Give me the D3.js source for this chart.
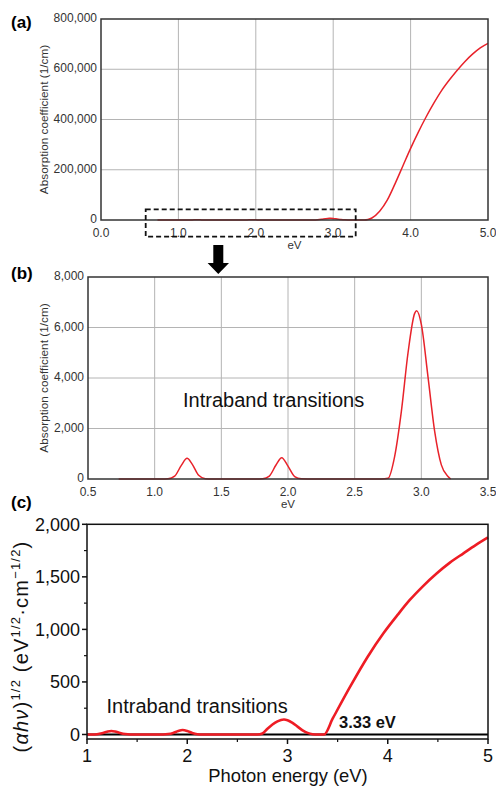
<!DOCTYPE html>
<html>
<head>
<meta charset="utf-8">
<script src="https://cdn.jsdelivr.net/npm/d3@7"></script>
<style>
  html, body { margin: 0; padding: 0; background: #fff; }
  svg { display: block; font-family: "Liberation Sans", Arial, sans-serif; }
</style>
</head>
<body>
<svg id="chart" width="496" height="786"></svg>
<script>
// ---------- DATA ----------
// Intraband absorption (panels a & b): photon energy (eV) and absorption coefficient (1/cm)
const intrabandEnergy = [0.73, 1.05, 1.10, 1.15, 1.20, 1.243, 1.28, 1.33, 1.38, 1.43,
  1.76, 1.81, 1.86, 1.91, 1.953, 2.00, 2.05, 2.10, 2.15,
  2.70, 2.75, 2.80, 2.85, 2.90, 2.95, 2.965, 3.00, 3.05, 3.10, 3.15, 3.20, 3.22];
const intrabandAlpha = [0, 0, 8, 114, 539, 820, 600, 147, 11, 0,
  0, 10, 117, 555, 845, 511, 98, 6, 0,
  0, 30, 900, 2670, 4990, 6560, 6665, 6120, 4045, 1890, 560, 100, 0];
// Band-edge absorption (panel a)
const edgeEnergy = [3.30, 3.40, 3.45, 3.50, 3.60, 3.70, 3.80, 3.90, 4.00, 4.10, 4.20, 4.30, 4.40, 4.50, 4.60, 4.70, 4.80, 4.90, 5.00];
const edgeAlpha = [0, 0, 2000, 8000, 35000, 80000, 145000, 215000, 285000, 350000, 410000, 465000, 515000, 557000, 595000, 630000, 660000, 685000, 703000];
// Tauc plot (panel c): photon energy (eV) and (alpha h nu)^1/2
const taucEnergy = [1.00, 1.05, 1.10, 1.15, 1.20, 1.243, 1.28, 1.33, 1.38, 1.43,
  1.76, 1.81, 1.86, 1.91, 1.953, 2.00, 2.05, 2.10, 2.15,
  2.70, 2.75, 2.80, 2.85, 2.90, 2.965, 3.00, 3.05, 3.10, 3.15, 3.20, 3.25, 3.30, 3.365,
  3.45, 3.625, 3.80, 3.957, 4.10, 4.22, 4.35, 4.49, 4.62, 4.755, 4.88, 5.00];
const taucValue = [0, 0, 3, 12, 26, 33, 28, 14, 4, 0,
  0, 4, 15, 33, 42, 33, 14, 3, 0,
  0, 10, 55, 95, 125, 142, 135, 110, 75, 40, 15, 3, 0, 0,
  150, 455, 740, 963, 1140, 1280, 1410, 1534, 1635, 1724, 1805, 1876];

// Tick values / labels
const aXTicks = [0, 1, 2, 3, 4, 5];
const aYTicks = [0, 200000, 400000, 600000, 800000];
const bXTicks = [0.5, 1.0, 1.5, 2.0, 2.5, 3.0, 3.5];
const bYTicks = [0, 2000, 4000, 6000, 8000];
const cXTicks = [1, 2, 3, 4, 5];
const cXMinor = [1.5, 2.5, 3.5, 4.5];
const cYTicks = [0, 500, 1000, 1500, 2000];
const cYMinor = [250, 750, 1250, 1750];
const gapLabel = "3.33 eV";
const annotationText = "Intraband transitions";

// ---------- BUILD ----------
const svg = d3.select("#chart");
const fmtComma = d3.format(",");
const red = "#e8222a";

const aData = intrabandEnergy.map((e, i) => [e, intrabandAlpha[i]])
  .concat(edgeEnergy.map((e, i) => [e, edgeAlpha[i]]));
const bData = intrabandEnergy.map((e, i) => [e, intrabandAlpha[i]]);
const cData = taucEnergy.map((e, i) => [e, taucValue[i]]);

// ---------- PANEL A ----------
const A = { l: 101, r: 488, t: 19, b: 220 };
const ax = d3.scaleLinear().domain([0, 5]).range([A.l, A.r]);
const ay = d3.scaleLinear().domain([0, 800000]).range([A.b, A.t]);
const gA = svg.append("g");
gA.append("g").selectAll("line").data(aXTicks.filter(d => d > 0 && d < 5)).join("line")
  .attr("x1", d => ax(d)).attr("x2", d => ax(d)).attr("y1", A.t).attr("y2", A.b)
  .attr("stroke", "#b4b4b4").attr("stroke-width", 1);
gA.append("g").selectAll("line").data(aYTicks.filter(d => d > 0 && d < 800000)).join("line")
  .attr("x1", A.l).attr("x2", A.r).attr("y1", d => ay(d)).attr("y2", d => ay(d))
  .attr("stroke", "#b4b4b4").attr("stroke-width", 1);
gA.append("path").datum(aData)
  .attr("d", d3.line().x(d => ax(d[0])).y(d => ay(d[1])).curve(d3.curveMonotoneX))
  .attr("fill", "none").attr("stroke", red).attr("stroke-width", 1.5);
gA.append("rect").attr("x", A.l).attr("y", A.t).attr("width", A.r - A.l).attr("height", A.b - A.t)
  .attr("fill", "none").attr("stroke", "#333").attr("stroke-width", 1.5);
gA.append("g").selectAll("text").data(aXTicks).join("text")
  .attr("x", d => ax(d)).attr("y", 236.5).attr("text-anchor", "middle")
  .attr("font-size", 12).attr("fill", "#333").text(d => d3.format(".1f")(d));
gA.append("g").selectAll("text").data(aYTicks).join("text")
  .attr("x", 97).attr("y", d => ay(d) + 3.0).attr("text-anchor", "end")
  .attr("font-size", 12).attr("fill", "#333").text(d => fmtComma(d));
gA.append("text").attr("x", (A.l + A.r) / 2).attr("y", 248.5).attr("text-anchor", "middle")
  .attr("font-size", 11.5).attr("fill", "#333").text("eV");
gA.append("text").attr("transform", `translate(48,${(A.t + A.b) / 2}) rotate(-90)`)
  .attr("text-anchor", "middle").attr("font-size", 11.8).attr("fill", "#333")
  .text("Absorption coefficient (1/cm)");
gA.append("text").attr("x", 11).attr("y", 28).attr("font-size", 17).attr("font-weight", "bold").text("(a)");
// dashed zoom box
gA.append("rect").attr("x", 145.7).attr("y", 209.3).attr("width", 210).attr("height", 27.4)
  .attr("fill", "none").attr("stroke", "#111").attr("stroke-width", 1.8).attr("stroke-dasharray", "5,3");
// arrow
gA.append("path").attr("d", "M213.3,245 L223.3,245 L223.3,263 L229,263 L218.3,274 L207.6,263 L213.3,263 Z")
  .attr("fill", "#000");

// ---------- PANEL B ----------
const B = { l: 88, r: 488, t: 277, b: 479 };
const bx = d3.scaleLinear().domain([0.5, 3.5]).range([B.l, B.r]);
const by = d3.scaleLinear().domain([0, 8000]).range([B.b, B.t]);
const gB = svg.append("g");
gB.append("g").selectAll("line").data(bXTicks.filter(d => d > 0.5 && d < 3.5)).join("line")
  .attr("x1", d => bx(d)).attr("x2", d => bx(d)).attr("y1", B.t).attr("y2", B.b)
  .attr("stroke", "#b4b4b4").attr("stroke-width", 1);
gB.append("g").selectAll("line").data(bYTicks.filter(d => d > 0 && d < 8000)).join("line")
  .attr("x1", B.l).attr("x2", B.r).attr("y1", d => by(d)).attr("y2", d => by(d))
  .attr("stroke", "#b4b4b4").attr("stroke-width", 1);
gB.append("path").datum(bData)
  .attr("d", d3.line().x(d => bx(d[0])).y(d => by(d[1])).curve(d3.curveMonotoneX))
  .attr("fill", "none").attr("stroke", red).attr("stroke-width", 1.5);
gB.append("rect").attr("x", B.l).attr("y", B.t).attr("width", B.r - B.l).attr("height", B.b - B.t)
  .attr("fill", "none").attr("stroke", "#333").attr("stroke-width", 1.5);
gB.append("g").selectAll("text").data(bXTicks).join("text")
  .attr("x", d => bx(d)).attr("y", 495.5).attr("text-anchor", "middle")
  .attr("font-size", 12).attr("fill", "#333").text(d => d3.format(".1f")(d));
gB.append("g").selectAll("text").data(bYTicks).join("text")
  .attr("x", 84).attr("y", d => by(d) + 3.0).attr("text-anchor", "end")
  .attr("font-size", 12).attr("fill", "#333").text(d => fmtComma(d));
gB.append("text").attr("x", (B.l + B.r) / 2).attr("y", 507.5).attr("text-anchor", "middle")
  .attr("font-size", 11.5).attr("fill", "#333").text("eV");
gB.append("text").attr("transform", `translate(48,${(B.t + B.b) / 2}) rotate(-90)`)
  .attr("text-anchor", "middle").attr("font-size", 11.8).attr("fill", "#333")
  .text("Absorption coefficient (1/cm)");
gB.append("text").attr("x", 11).attr("y", 279).attr("font-size", 17).attr("font-weight", "bold").text("(b)");
gB.append("text").attr("x", 183).attr("y", 407).attr("font-size", 20).attr("fill", "#111").text(annotationText);

// ---------- PANEL C ----------
const C = { l: 87, r: 488, t: 524.3, b: 739 };
const cx = d3.scaleLinear().domain([1, 5]).range([C.l, C.r]);
const cy = d3.scaleLinear().domain([-43, 2000]).range([C.b, C.t]);
const gC = svg.append("g");
// zero line
gC.append("line").attr("x1", C.l).attr("x2", C.r).attr("y1", cy(0)).attr("y2", cy(0))
  .attr("stroke", "#000").attr("stroke-width", 2);
gC.append("path").datum(cData)
  .attr("d", d3.line().x(d => cx(d[0])).y(d => cy(d[1])).curve(d3.curveMonotoneX))
  .attr("fill", "none").attr("stroke", "#ee1c24").attr("stroke-width", 2.6);
gC.append("rect").attr("x", C.l).attr("y", C.t).attr("width", C.r - C.l).attr("height", C.b - C.t)
  .attr("fill", "none").attr("stroke", "#111").attr("stroke-width", 1.5);
// ticks
gC.append("g").selectAll("line").data(cXTicks).join("line")
  .attr("x1", d => cx(d)).attr("x2", d => cx(d)).attr("y1", C.b).attr("y2", C.b + 5)
  .attr("stroke", "#111").attr("stroke-width", 1.5);
gC.append("g").selectAll("line").data(cXMinor).join("line")
  .attr("x1", d => cx(d)).attr("x2", d => cx(d)).attr("y1", C.b).attr("y2", C.b + 3)
  .attr("stroke", "#111").attr("stroke-width", 1.2);
gC.append("g").selectAll("line").data(cYTicks).join("line")
  .attr("x1", C.l - 5).attr("x2", C.l).attr("y1", d => cy(d)).attr("y2", d => cy(d))
  .attr("stroke", "#111").attr("stroke-width", 1.5);
gC.append("g").selectAll("line").data(cYMinor).join("line")
  .attr("x1", C.l - 3).attr("x2", C.l).attr("y1", d => cy(d)).attr("y2", d => cy(d))
  .attr("stroke", "#111").attr("stroke-width", 1.2);
gC.append("g").selectAll("text").data(cXTicks).join("text")
  .attr("x", d => cx(d)).attr("y", 761.5).attr("text-anchor", "middle")
  .attr("font-size", 18).attr("fill", "#111").text(d => d);
gC.append("g").selectAll("text").data(cYTicks).join("text")
  .attr("x", 80).attr("y", d => cy(d) + 6.3).attr("text-anchor", "end")
  .attr("font-size", 18).attr("fill", "#111").text(d => fmtComma(d));
gC.append("text").attr("x", 288).attr("y", 782).attr("text-anchor", "middle")
  .attr("font-size", 18.4).attr("fill", "#111").text("Photon energy (eV)");
gC.append("text").attr("x", 11).attr("y", 508).attr("font-size", 17).attr("font-weight", "bold").text("(c)");
gC.append("text").attr("x", 106.5).attr("y", 713).attr("font-size", 20).attr("fill", "#111").text(annotationText);
gC.append("text").attr("x", 339).attr("y", 728.3).attr("font-size", 16.5).attr("font-weight", "bold")
  .attr("fill", "#111").text(gapLabel);
// y label with superscripts
const yl = gC.append("text").attr("transform", "translate(28,646.5) rotate(-90)")
  .attr("text-anchor", "middle").attr("font-size", 20).attr("letter-spacing", 1.2).attr("fill", "#111");
yl.append("tspan").text("(");
yl.append("tspan").attr("font-style", "italic").text("αhν");
yl.append("tspan").text(")");
yl.append("tspan").attr("font-size", 13).attr("dy", -8).text("1/2");
yl.append("tspan").attr("dy", 8).text(" (eV");
yl.append("tspan").attr("font-size", 13).attr("dy", -8).text("1/2");
yl.append("tspan").attr("dy", 8).text("·cm");
yl.append("tspan").attr("font-size", 13).attr("dy", -8).text("−1/2");
yl.append("tspan").attr("dy", 8).text(")");
</script>
</body>
</html>
